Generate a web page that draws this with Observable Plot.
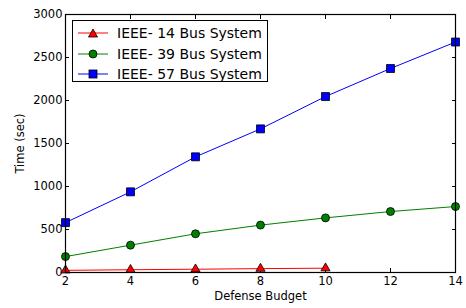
<!DOCTYPE html>
<html>
<head>
<meta charset="utf-8">
<script src="https://cdn.jsdelivr.net/npm/d3@7"></script>
<script src="https://cdn.jsdelivr.net/npm/@observablehq/plot@0.6"></script>
<style>
  html, body { margin: 0; padding: 0; background: #fff; }
  #wrap { position: relative; width: 466px; height: 308px; font-family: "DejaVu Sans", sans-serif; }
  #wrap svg text { font-size: 11.5px !important; font-family: "DejaVu Sans", sans-serif !important; }
  #legend { position: absolute; left: 72px; top: 20px; width: 196px; height: 62px; border: 1px solid #000; background: #fff; box-sizing: border-box; padding-top: 2px; }
  .row { display: flex; align-items: center; height: 20.5px; font-size: 14px; color: #000; }
  .row svg { margin-left: 5px; margin-right: 9px; }
</style>
</head>
<body>
<div id="wrap"><div id="legend"></div></div>
<script>
const budget = [2, 4, 6, 8, 10, 12, 14];
const bus14 = [25, 32, 38, 45, 50];
const bus39 = [185, 318, 450, 551, 635, 709, 767];
const bus57 = [580, 938, 1345, 1670, 2046, 2372, 2680];
const seriesNames = ["IEEE- 14 Bus System", "IEEE- 39 Bus System", "IEEE- 57 Bus System"];
const seriesColors = ["#ff0000", "#008000", "#0000ff"];
const seriesSymbols = ["triangle", "circle", "square"];
const xTicks = [2, 4, 6, 8, 10, 12, 14];
const yTicks = [0, 500, 1000, 1500, 2000, 2500, 3000];

const rows = [];
[bus14, bus39, bus57].forEach((vals, i) => {
  vals.forEach((v, j) => rows.push({budget: budget[j], time: v, series: seriesNames[i]}));
});

const colorScale = {domain: seriesNames, range: seriesColors};
const symScale = {domain: seriesNames, range: seriesSymbols};
const dotR = [3.4, 4, 4.5];

const chart = Plot.plot({
  width: 466,
  height: 308,
  marginLeft: 65,
  marginRight: 11,
  marginTop: 14,
  marginBottom: 36,
  style: {fontFamily: "DejaVu Sans, sans-serif", fontSize: "11.5px", color: "#000", background: "transparent"},
  x: {domain: [2, 14]},
  y: {domain: [0, 3000]},
  color: colorScale,
  symbol: symScale,
  marks: [
    Plot.axisX({ticks: xTicks, tickSize: -4, tickPadding: 8, tickFormat: d3.format("d"), label: "Defense Budget", labelArrow: "none", labelAnchor: "center", labelOffset: 27, fontSize: 11.5}),
    Plot.axisX({anchor: "top", ticks: xTicks, tickSize: -4, tickFormat: () => "", label: null}),
    Plot.axisY({ticks: yTicks, tickSize: -4, tickPadding: 7, tickFormat: d3.format("d"), label: "Time (sec)", labelAnchor: "center", labelOffset: 50, labelArrow: "none", fontSize: 11.5}),
    Plot.axisY({anchor: "right", ticks: yTicks, tickSize: -4, tickFormat: () => "", label: null}),
    Plot.line(rows, {x: "budget", y: "time", z: "series", stroke: "series", strokeWidth: 1}),
    ...seriesNames.map((name, i) =>
      Plot.dot(rows.filter(d => d.series === name), {x: "budget", y: "time", fill: "series", symbol: "series", stroke: "#000", strokeWidth: 0.8, r: dotR[i]})
    ),
    Plot.frame({stroke: "#000", strokeWidth: 1.2})
  ]
});
document.getElementById("wrap").prepend(chart);

const legend = document.getElementById("legend");
const symPaths = {
  triangle: '<path d="M15,6 L19.5,14 L10.5,14 Z" fill="COL" stroke="#000" stroke-width="0.8"/>',
  circle: '<circle cx="15" cy="10" r="4" fill="COL" stroke="#000" stroke-width="0.8"/>',
  square: '<rect x="11" y="6" width="8" height="8" fill="COL" stroke="#000" stroke-width="0.8"/>'
};
seriesNames.forEach((name, i) => {
  const div = document.createElement("div");
  div.className = "row";
  div.innerHTML = `<svg width="30" height="20"><line x1="0" y1="10" x2="30" y2="10" stroke="${seriesColors[i]}" stroke-width="1"/>${symPaths[seriesSymbols[i]].replace("COL", seriesColors[i])}</svg><span>${name}</span>`;
  legend.appendChild(div);
});
</script>
</body>
</html>
